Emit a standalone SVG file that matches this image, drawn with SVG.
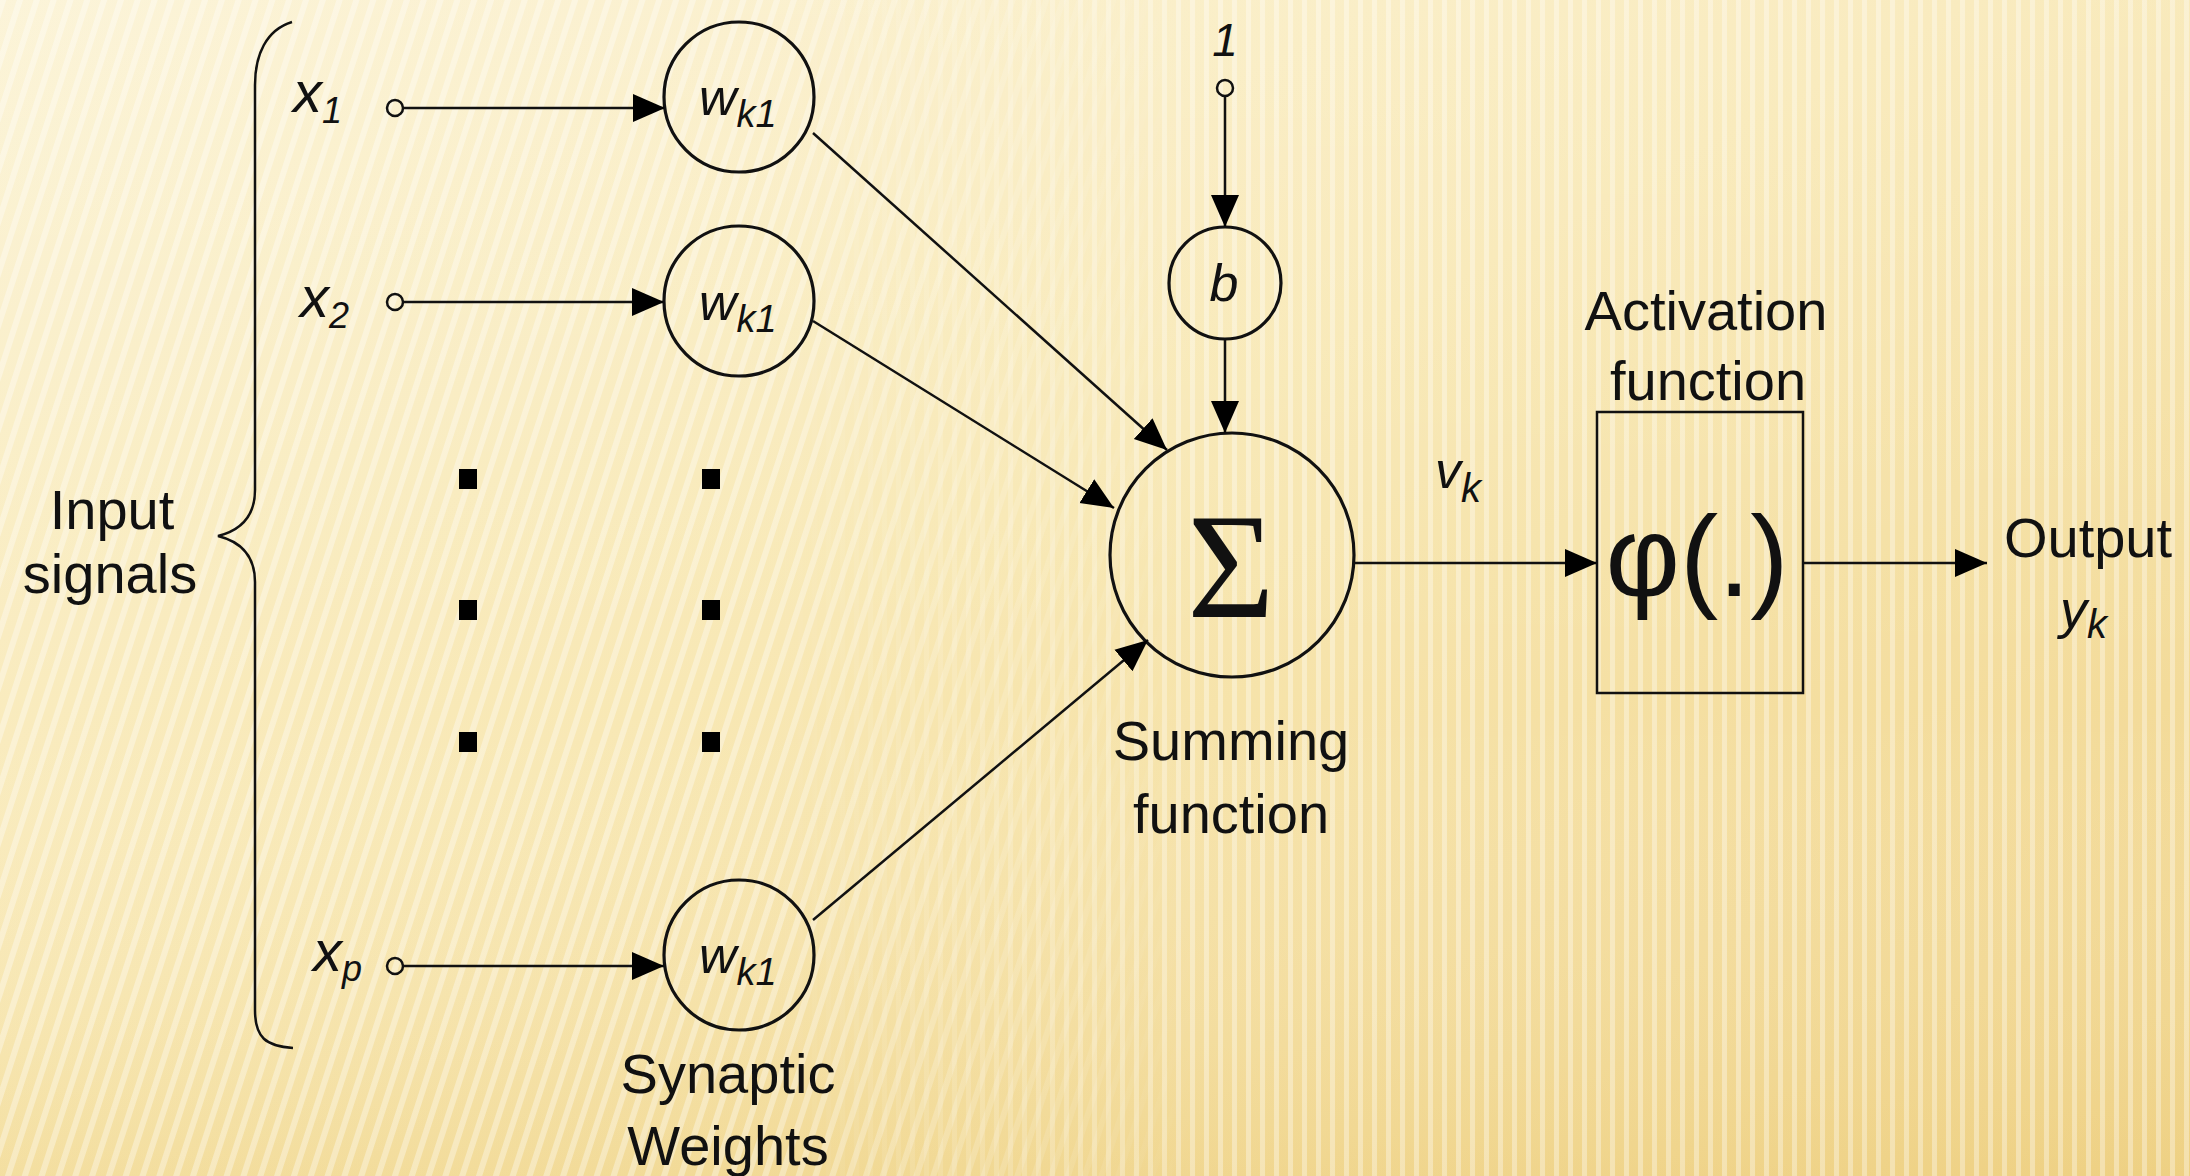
<svg xmlns="http://www.w3.org/2000/svg" width="2190" height="1176" viewBox="0 0 2190 1176">
<defs>
<linearGradient id="bg" x1="0" y1="0" x2="1" y2="1">
<stop offset="0" stop-color="#FBF2D2"/>
<stop offset="0.45" stop-color="#F8E8B4"/>
<stop offset="1" stop-color="#F0D389"/>
</linearGradient>
<linearGradient id="bg2" x1="0" y1="0" x2="0" y2="1">
<stop offset="0" stop-color="#FFFFFF" stop-opacity="0.15"/>
<stop offset="0.6" stop-color="#FFFFFF" stop-opacity="0"/>
<stop offset="1" stop-color="#E8C870" stop-opacity="0.25"/>
</linearGradient>
<pattern id="diag" width="16" height="16" patternUnits="userSpaceOnUse" patternTransform="rotate(18)">
<rect x="0" y="0" width="6" height="16" fill="#FFFFFF" opacity="0.35"/>
</pattern>
<pattern id="vert" width="14" height="14" patternUnits="userSpaceOnUse">
<rect x="0" y="0" width="5" height="14" fill="#FFFFFF" opacity="0.35"/>
</pattern>
<linearGradient id="fadeL" x1="0" y1="0" x2="1" y2="0">
<stop offset="0" stop-color="#fff" stop-opacity="1"/>
<stop offset="0.35" stop-color="#fff" stop-opacity="1"/>
<stop offset="0.55" stop-color="#fff" stop-opacity="0"/>
</linearGradient>
<linearGradient id="fadeR" x1="0" y1="0" x2="1" y2="0">
<stop offset="0.35" stop-color="#fff" stop-opacity="0"/>
<stop offset="0.55" stop-color="#fff" stop-opacity="1"/>
</linearGradient>
<mask id="mL"><rect width="2190" height="1176" fill="url(#fadeL)"/></mask>
<mask id="mR"><rect width="2190" height="1176" fill="url(#fadeR)"/></mask>
<marker id="arr" markerUnits="userSpaceOnUse" markerWidth="34" markerHeight="30" refX="32" refY="15" orient="auto">
<path d="M0,1 L32,15 L0,29 Z" fill="#000"/>
</marker>
<style>
.ln{stroke:#111;stroke-width:2.5;fill:none}
.nd{stroke:#111;stroke-width:3.2;fill:none}
.pt{stroke:#111;stroke-width:2.5;fill:none}
.lbl{font-family:Arial,"Liberation Sans",Helvetica,sans-serif;font-size:56px;fill:#111;text-anchor:middle}
.var{font-family:Arial,"Liberation Sans",Helvetica,sans-serif;font-style:italic;fill:#111}
.dot{fill:#000}
</style>
</defs>
<g id="background">
<rect width="2190" height="1176" fill="url(#bg)"/>
<rect width="2190" height="1176" fill="url(#bg2)"/>
<rect width="2190" height="1176" fill="url(#diag)" mask="url(#mL)"/>
<rect width="2190" height="1176" fill="url(#vert)" mask="url(#mR)"/>
</g>
<g id="brace">
<path class="ln" d="M292,22 C266,30 255,55 255,85 L255,490 C255,515 242,530 218,536 C242,542 255,557 255,582 L255,1010 C255,1038 266,1046 293,1048"/>
</g>
<g id="input-signals-label">
<text class="lbl" x="112" y="529">Input</text>
<text class="lbl" x="110" y="593">signals</text>
</g>
<g id="input-x1">
<text class="var" x="293" y="112" font-size="58">x<tspan font-size="36" dy="11">1</tspan></text>
<circle class="pt" cx="395" cy="108" r="8"/>
</g>
<g id="input-x2">
<text class="var" x="300" y="317" font-size="58">x<tspan font-size="36" dy="11">2</tspan></text>
<circle class="pt" cx="395" cy="302" r="8"/>
</g>
<g id="input-xp">
<text class="var" x="313" y="971" font-size="58">x<tspan font-size="36" dy="10">p</tspan></text>
<circle class="pt" cx="395" cy="966" r="8"/>
</g>
<g id="weight-1">
<circle class="nd" cx="739" cy="97" r="75"/>
<text class="var" x="699" y="115" font-size="52">w<tspan font-size="38" dy="12">k1</tspan></text>
</g>
<g id="weight-2">
<circle class="nd" cx="739" cy="301" r="75"/>
<text class="var" x="699" y="320" font-size="52">w<tspan font-size="38" dy="12">k1</tspan></text>
</g>
<g id="weight-p">
<circle class="nd" cx="739" cy="955" r="75"/>
<text class="var" x="699" y="973" font-size="52">w<tspan font-size="38" dy="12">k1</tspan></text>
</g>
<g id="ellipsis-dots">
<rect class="dot" x="459" y="469" width="18" height="20"/>
<rect class="dot" x="459" y="600" width="18" height="20"/>
<rect class="dot" x="459" y="732" width="18" height="20"/>
<rect class="dot" x="702" y="469" width="18" height="20"/>
<rect class="dot" x="702" y="600" width="18" height="20"/>
<rect class="dot" x="702" y="732" width="18" height="20"/>
</g>
<g id="synaptic-label">
<text class="lbl" x="728" y="1093">Synaptic</text>
<text class="lbl" x="728" y="1165">Weights</text>
</g>
<g id="bias-input">
<text class="var" x="1225" y="56" font-size="46" text-anchor="middle">1</text>
<circle class="pt" cx="1225" cy="88" r="8"/>
</g>
<g id="bias">
<circle class="nd" cx="1225" cy="283" r="56"/>
<text class="var" x="1224" y="301" font-size="52" text-anchor="middle">b</text>
</g>
<g id="summing">
<circle class="nd" cx="1232" cy="555" r="122"/>
<text x="1231" y="617" font-family="'Liberation Serif','Times New Roman',serif" font-size="150" text-anchor="middle" fill="#111">Σ</text>
</g>
<g id="summing-label">
<text class="lbl" x="1231" y="760">Summing</text>
<text class="lbl" x="1231" y="833">function</text>
</g>
<g id="activation">
<rect class="ln" x="1597" y="412" width="206" height="281"/>
<text x="1697" y="596" font-family="Arial,'Liberation Sans',sans-serif" font-size="115" text-anchor="middle" fill="#111">φ(.)</text>
</g>
<g id="activation-label">
<text class="lbl" x="1706" y="330">Activation</text>
<text class="lbl" x="1708" y="400">function</text>
</g>
<g id="vk-label">
<text class="var" x="1435" y="488" font-size="52">v<tspan font-size="40" dy="14">k</tspan></text>
</g>
<g id="output-label">
<text class="lbl" x="2088" y="557">Output</text>
<text class="var" x="2060" y="628" font-size="54">y<tspan font-size="40" dy="10">k</tspan></text>
</g>
<g id="connectors">
<line class="ln" x1="403" y1="108" x2="665" y2="108" marker-end="url(#arr)"/>
<line class="ln" x1="403" y1="302" x2="664" y2="302" marker-end="url(#arr)"/>
<line class="ln" x1="403" y1="966" x2="664" y2="966" marker-end="url(#arr)"/>
<line class="ln" x1="813" y1="133" x2="1167" y2="450" marker-end="url(#arr)"/>
<line class="ln" x1="813" y1="321" x2="1114" y2="508" marker-end="url(#arr)"/>
<line class="ln" x1="813" y1="920" x2="1148" y2="640" marker-end="url(#arr)"/>
<line class="ln" x1="1225" y1="96" x2="1225" y2="227" marker-end="url(#arr)"/>
<line class="ln" x1="1225" y1="339" x2="1225" y2="433" marker-end="url(#arr)"/>
<line class="ln" x1="1354" y1="563" x2="1597" y2="563" marker-end="url(#arr)"/>
<line class="ln" x1="1803" y1="563" x2="1987" y2="563" marker-end="url(#arr)"/>
</g>
</svg>
